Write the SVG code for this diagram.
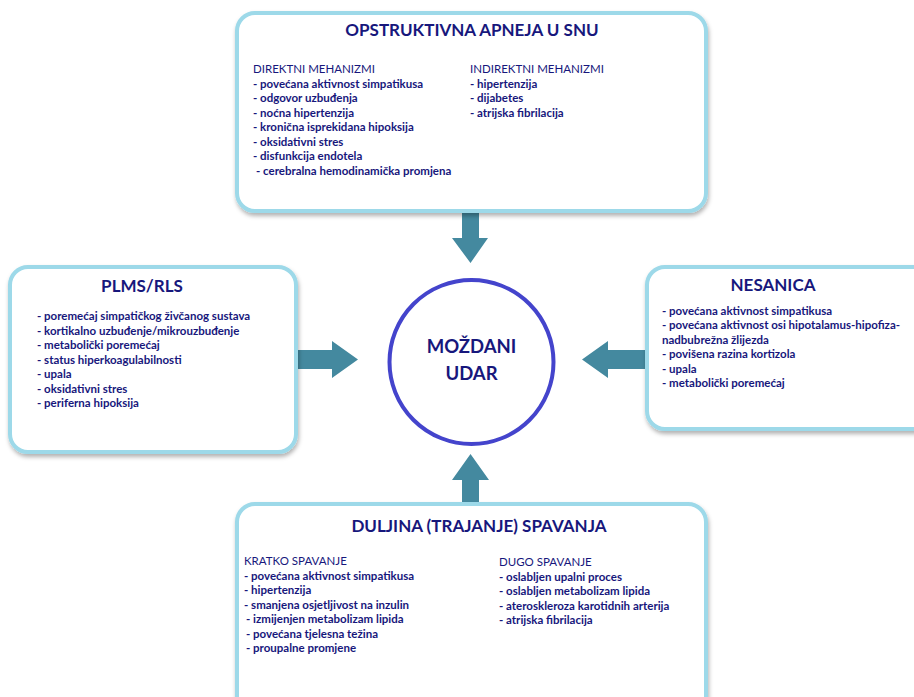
<svg xmlns="http://www.w3.org/2000/svg" width="914" height="697" viewBox="0 0 914 697">
<defs>
<filter id="sh" x="-10%" y="-10%" width="120%" height="130%">
<feDropShadow dx="1" dy="3" stdDeviation="2" flood-color="#000" flood-opacity="0.3"/>
</filter>
</defs>
<style>
.box{fill:#fff;stroke:#9dd9e9;stroke-width:4;filter:url(#sh)}
.t{font-family:Lato,"Open Sans","Liberation Sans",sans-serif;fill:#17177c}
.title{font-size:17px;font-weight:bold;text-anchor:middle}
.h{font-size:11.5px}
.i{font-size:11.5px;font-weight:bold}
.arr{fill:#44899f}
.circ{fill:#fff;stroke:#4444cc;stroke-width:4}
.ct{font-size:18.5px;font-weight:bold;text-anchor:middle}
</style>
<rect width="914" height="697" fill="#fff"/>
<g id="connectors">
<polygon class="arr" points="462,213 479,213 479,238 488,238 470.5,263 452,238 462,238"/>
<polygon class="arr" points="462,502 462,480 452,480 470.5,454 489,480 479,480 479,502"/>
<polygon class="arr" points="298,350 332,350 332,341 358,359.5 332,378 332,369 298,369"/>
<polygon class="arr" points="645,350 608,350 608,341 582,359.5 608,378 608,369 645,369"/>
</g>
<g id="node-osa">
<rect class="box" x="237" y="13" width="469" height="198" rx="18"/>
<text class="t title" x="472" y="36">OPSTRUKTIVNA APNEJA U SNU</text>
<text class="t h" x="253" y="73">DIREKTNI MEHANIZMI</text>
<text class="t i" x="253" y="87.5">- povećana aktivnost simpatikusa</text>
<text class="t i" x="253" y="102">- odgovor uzbuđenja</text>
<text class="t i" x="253" y="116.5">- noćna hipertenzija</text>
<text class="t i" x="253" y="131">- kronična isprekidana hipoksija</text>
<text class="t i" x="253" y="145.5">- oksidativni stres</text>
<text class="t i" x="253" y="160">- disfunkcija endotela</text>
<text class="t i" x="256" y="174.5">- cerebralna hemodinamička promjena</text>
<text class="t h" x="470" y="73">INDIREKTNI MEHANIZMI</text>
<text class="t i" x="470" y="87.5">- hipertenzija</text>
<text class="t i" x="470" y="102">- dijabetes</text>
<text class="t i" x="470" y="116.5">- atrijska fibrilacija</text>
</g>
<g id="node-plms">
<rect class="box" x="10" y="267" width="286" height="185" rx="18"/>
<text class="t title" x="142" y="292">PLMS/RLS</text>
<text class="t i" x="37" y="320">- poremećaj simpatičkog živčanog sustava</text>
<text class="t i" x="37" y="334.5">- kortikalno uzbuđenje/mikrouzbuđenje</text>
<text class="t i" x="37" y="349">- metabolički poremećaj</text>
<text class="t i" x="37" y="363.5">- status hiperkoagulabilnosti</text>
<text class="t i" x="37" y="378">- upala</text>
<text class="t i" x="37" y="392.5">- oksidativni stres</text>
<text class="t i" x="37" y="407">- periferna hipoksija</text>
</g>
<g id="node-nesanica">
<rect class="box" x="647" y="267" width="290" height="162" rx="18"/>
<text class="t title" x="773" y="291">NESANICA</text>
<text class="t i" x="662" y="314.5">- povećana aktivnost simpatikusa</text>
<text class="t i" x="662" y="329">- povećana aktivnost osi hipotalamus-hipofiza-</text>
<text class="t i" x="662" y="343.5">nadbubrežna žlijezda</text>
<text class="t i" x="662" y="358">- povišena razina kortizola</text>
<text class="t i" x="662" y="372.5">- upala</text>
<text class="t i" x="662" y="387">- metabolički poremećaj</text>
</g>
<g id="node-duljina">
<rect class="box" x="237" y="504" width="469" height="220" rx="18"/>
<text class="t title" x="479" y="532">DULJINA (TRAJANJE) SPAVANJA</text>
<text class="t h" x="244" y="565">KRATKO SPAVANJE</text>
<text class="t i" x="244" y="579.5">- povećana aktivnost simpatikusa</text>
<text class="t i" x="244" y="594">- hipertenzija</text>
<text class="t i" x="244" y="608.5">- smanjena osjetljivost na inzulin</text>
<text class="t i" x="246" y="623">- izmijenjen metabolizam lipida</text>
<text class="t i" x="246" y="637.5">- povećana tjelesna težina</text>
<text class="t i" x="246" y="652">- proupalne promjene</text>
<text class="t h" x="499" y="566">DUGO SPAVANJE</text>
<text class="t i" x="499" y="580.5">- oslabljen upalni proces</text>
<text class="t i" x="499" y="595">- oslabljen metabolizam lipida</text>
<text class="t i" x="499" y="609.5">- ateroskleroza karotidnih arterija</text>
<text class="t i" x="499" y="624">- atrijska fibrilacija</text>
</g>
<g id="node-mozdani">
<circle class="circ" cx="471.5" cy="362" r="82"/>
<text class="t ct" x="471.5" y="353">MOŽDANI</text>
<text class="t ct" x="471.5" y="380">UDAR</text>
</g>
</svg>
